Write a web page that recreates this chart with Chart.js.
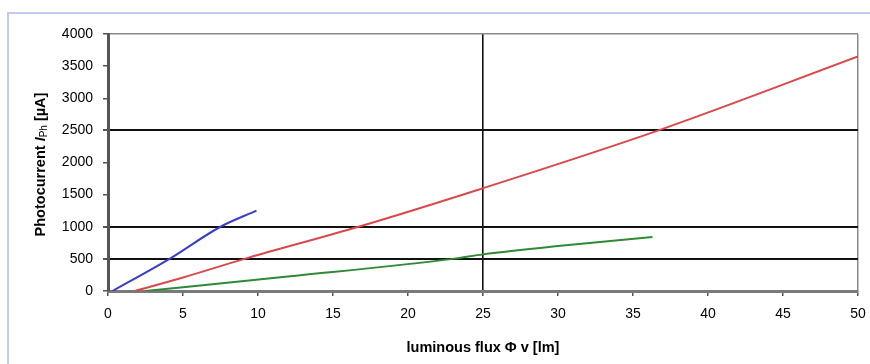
<!DOCTYPE html>
<html>
<head>
<meta charset="utf-8">
<script src="https://cdn.jsdelivr.net/npm/chart.js@4/dist/chart.umd.min.js"></script>
<style>
  html, body { margin: 0; padding: 0; background: #fff; overflow: hidden; width: 870px; height: 364px; }
  #rahmen { position: absolute; left: 7px; top: 12px; width: 900px; height: 400px;
            border-left: 2px solid #c3cbea; border-top: 2px solid #c3cbea; }
  #wrap { position: absolute; left: 0; top: 0; width: 870px; height: 364px; }
</style>
</head>
<body>
<div id="rahmen"></div>
<div id="wrap"><canvas id="grafico"></canvas></div>
<script>
// Werte (Lichtstrom in lm, Photostrom in µA)
const blauX = [0.3, 4.1, 7.5, 9.9];
const blauY = [0, 500, 1000, 1250];

const rotX = [1.8, 5.0, 9.1, 16.7, 25.0, 36.7, 50.0];
const rotY = [0, 210, 500, 1000, 1600, 2500, 3650];

const gruenX = [2.5, 11.5, 23.0, 25.0, 30.0, 36.3];
const gruenY = [0, 215, 500, 570, 700, 840];

const xTicks = [0, 5, 10, 15, 20, 25, 30, 35, 40, 45, 50];
const yTicks = [0, 500, 1000, 1500, 2000, 2500, 3000, 3500, 4000];

function paare(xs, ys) {
  return xs.map((x, i) => ({ x: x, y: ys[i] }));
}

const schwarzY = [500, 1000, 2500];
const grauY = [4000];
const schwarzX = [25];
const grauX = [50];

const schrift = '"Liberation Sans", Arial, sans-serif';

const yTitel = {
  id: 'yTitel',
  afterDraw(chart) {
    const c = chart.ctx;
    const area = chart.chartArea;
    const teile = [
      { t: 'Photocurrent ', f: 'bold 14.5px ' + schrift, dy: 0 },
      { t: 'I', f: 'italic bold 14.5px ' + schrift, dy: 0 },
      { t: 'Ph', f: '10px ' + schrift, dy: 3 },
      { t: ' [µA]', f: 'bold 14.5px ' + schrift, dy: 0 }
    ];
    c.save();
    let breite = 0;
    teile.forEach(p => { c.font = p.f; breite += c.measureText(p.t).width; });
    c.translate(41, (area.top + area.bottom) / 2 + 2);
    c.rotate(-Math.PI / 2);
    c.fillStyle = '#000';
    c.textBaseline = 'middle';
    let x = -breite / 2;
    teile.forEach(p => {
      c.font = p.f;
      c.fillText(p.t, x, p.dy);
      x += c.measureText(p.t).width;
    });
    c.restore();
  }
};

const ctx = document.getElementById('grafico').getContext('2d');
new Chart(ctx, {
  type: 'scatter',
  data: {
    datasets: [
      {
        data: paare(blauX, blauY),
        borderColor: '#3a3fc4',
        borderWidth: 2,
        showLine: true,
        pointRadius: 0,
        cubicInterpolationMode: 'monotone'
      },
      {
        data: paare(rotX, rotY),
        borderColor: '#d9494c',
        borderWidth: 2,
        showLine: true,
        pointRadius: 0,
        cubicInterpolationMode: 'monotone'
      },
      {
        data: paare(gruenX, gruenY),
        borderColor: '#2f8a35',
        borderWidth: 2,
        showLine: true,
        pointRadius: 0,
        cubicInterpolationMode: 'monotone'
      }
    ]
  },
  options: {
    animation: false,
    responsive: true,
    maintainAspectRatio: false,
    layout: { padding: { left: 0, top: 34, right: 12, bottom: 0 } },
    scales: {
      x: {
        type: 'linear',
        min: 0,
        max: 50,
        afterBuildTicks: s => { s.ticks = xTicks.map(v => ({ value: v })); },
        afterFit: s => { s.height = 73; s.paddingLeft = 0; s.paddingRight = 0; },
        ticks: {
          color: '#000',
          padding: 10,
          maxRotation: 0,
          callback: v => String(v),
          font: { family: schrift, size: 14 }
        },
        grid: {
          color: c => schwarzX.includes(c.tick.value) ? '#111' : (grauX.includes(c.tick.value) ? '#8a8a8a' : 'rgba(0,0,0,0)'),
          lineWidth: c => schwarzX.includes(c.tick.value) ? 1.6 : 1.5,
          tickColor: '#555',
          tickLength: 5
        },
        border: { color: '#7a7a7a', width: 3 },
        title: {
          display: true,
          text: 'luminous flux Φ v [lm]',
          color: '#000',
          padding: { top: 0, bottom: 7 },
          font: { family: schrift, size: 14.5, weight: 'bold' }
        }
      },
      y: {
        min: 0,
        max: 4000,
        afterBuildTicks: s => { s.ticks = yTicks.map(v => ({ value: v })); },
        afterFit: s => { s.width = 108; },
        ticks: {
          color: '#000',
          padding: 10,
          callback: v => String(v),
          font: { family: schrift, size: 14 }
        },
        grid: {
          color: c => schwarzY.includes(c.tick.value) ? '#111' : (grauY.includes(c.tick.value) ? '#8a8a8a' : 'rgba(0,0,0,0)'),
          lineWidth: c => schwarzY.includes(c.tick.value) ? 2 : 1.5,
          tickColor: '#555',
          tickLength: 5
        },
        border: { color: '#555', width: 3 }
      }
    },
    plugins: {
      legend: { display: false },
      tooltip: { enabled: false }
    }
  },
  plugins: [yTitel]
});
</script>
</body>
</html>
